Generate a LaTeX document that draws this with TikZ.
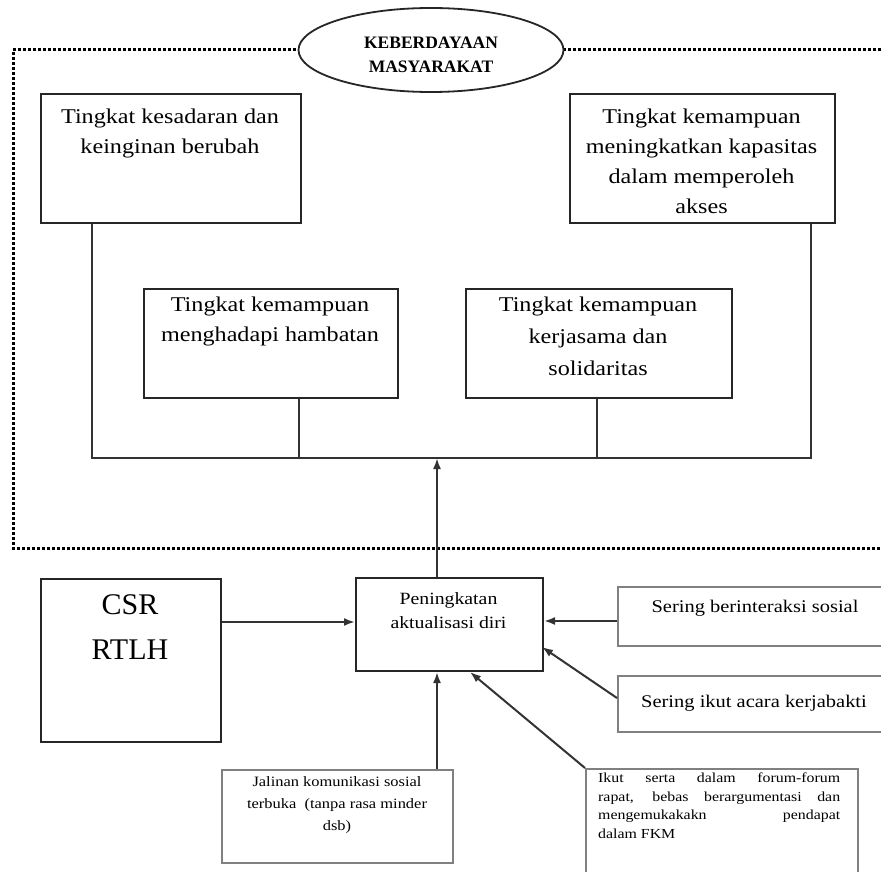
\documentclass[tikz,border=0pt]{standalone}
\usepackage{fontspec}
\setmainfont[FakeStretch=1.15]{Liberation Serif}
\newfontfamily\plainserif{Liberation Serif}
\usetikzlibrary{arrows.meta,shapes.geometric}
\begin{document}
\begin{tikzpicture}[x=1pt,y=-1pt,
  bx/.style={draw=black!85, line width=2pt, anchor=north west, inner sep=0pt},
  gbx/.style={draw=black!50, line width=1.8pt, anchor=north west, inner sep=0pt},
  txt/.style={anchor=north, align=center, font=\fontsize{21}{30}\selectfont, inner sep=0pt},
  stxt/.style={anchor=north, align=center, font=\fontsize{17.8}{23}\selectfont, inner sep=0pt},
  ln/.style={line width=2pt, black!80},
  arr/.style={line width=2pt, black!80, -{Latex[length=11pt,width=8pt]}},
  dotline/.style={line width=3pt, dash pattern=on 2.6pt off 2.4pt}]
\useasboundingbox (0,0) rectangle (881,872);
\fill[white] (0,0) rectangle (881,872);

% dotted frame
\coordinate (ftl) at (13,50);
\coordinate (fbl) at (13,548);
\coordinate (fbr) at (881,548);
\coordinate (ftr) at (881,50);
\draw[dotline] (ftr) -- (ftl) -- (fbl) -- (fbr);
\node[ellipse, draw=black!85, line width=1.8pt, fill=white, minimum width=265, minimum height=84, inner sep=0pt] (kb) at (431,50) {};
\node[anchor=center, align=center, inner sep=0pt, font=\plainserif\fontsize{17.5}{24}\selectfont\bfseries] (tkb) at (431,55) {KEBERDAYAAN\\MASYARAKAT};

% upper boxes
\node[bx, minimum width=260, minimum height=129] (b1) at (40,93) {};
\node[txt] (t1) at (170,109) {Tingkat kesadaran dan\\keinginan berubah};
\node[bx, minimum width=265, minimum height=129] (b2) at (569,93) {};
\node[txt] (t2) at (701.5,109) {Tingkat kemampuan\\meningkatkan kapasitas\\dalam memperoleh\\akses};
\node[bx, minimum width=254, minimum height=109] (b3) at (143,288) {};
\node[txt] (t3) at (270,297) {Tingkat kemampuan\\menghadapi hambatan};
\node[bx, minimum width=266, minimum height=109] (b4) at (465,288) {};
\node[txt, font=\fontsize{21}{32}\selectfont] (t4) at (598,297) {Tingkat kemampuan\\kerjasama dan\\solidaritas};

% bus
\coordinate (bl) at (92,458);
\coordinate (br) at (811,458);
\coordinate (bm) at (437,458);
\draw[ln] (b1.south west -| bl) -- (bl) -- (br) -- (b2.south west -| br);
\draw[ln] (b3.south west -| 299,0) -- (299,458);
\draw[ln] (b4.south west -| 597,0) -- (597,458);

% lower boxes
\node[bx, minimum width=180, minimum height=163] (csr) at (40,578) {};
\node[anchor=north, align=center, font=\plainserif\fontsize{30}{45}\selectfont, inner sep=0pt] (tcsr) at (130,594) {CSR\\RTLH};
\node[bx, minimum width=187, minimum height=93] (pa) at (355,577) {};
\node[anchor=north, align=center, font=\fontsize{17.2}{24}\selectfont, inner sep=0pt] (tpa) at (448.5,592) {Peningkatan\\aktualisasi diri};

\node[gbx, minimum width=270, minimum height=59] (s1) at (617,586) {};
\node[stxt] (ts1) at (755,600) {Sering berinteraksi sosial};
\node[gbx, minimum width=270, minimum height=56] (s2) at (617,675) {};
\node[stxt] (ts2) at (754,695) {Sering ikut acara kerjabakti};
\node[gbx, minimum width=272, minimum height=110] (s3) at (585,768) {};
\node[anchor=north west, align=left, font=\fontsize{13.8}{18.5}\selectfont, inner sep=0pt] (ts3) at (598,773)
  {\makebox[242pt][s]{Ikut serta dalam forum-forum}\\
   \makebox[242pt][s]{rapat, bebas berargumentasi dan}\\
   \makebox[242pt][s]{mengemukakakn \hfill pendapat}\\
   dalam FKM};
\node[gbx, minimum width=231, minimum height=93] (jk) at (221,769) {};
\node[anchor=north, align=center, font=\fontsize{14.3}{22}\selectfont, inner sep=0pt] (tjk) at (337,776) {Jalinan komunikasi sosial\\terbuka\ \ (tanpa rasa minder\\dsb)};

% connectors
\draw[arr] (pa.north -| bm) -- (bm);
\draw[arr] (csr.east |- 0,622) -- (pa.west |- 0,622);
\draw[arr] (s1.west |- 0,621) -- (pa.east |- 0,621);
\draw[arr] (s2.west |- 0,698) -- (542,647);
\draw[arr] (s3.north west) -- (470,672);
\draw[arr] (jk.north -| 437,0) -- (pa.south -| 437,0);
\end{tikzpicture}
\end{document}
